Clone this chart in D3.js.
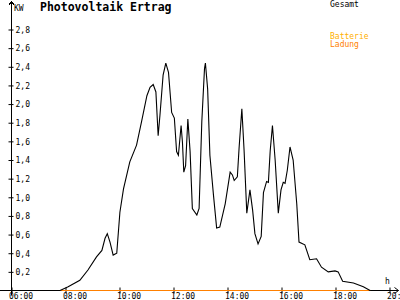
<!DOCTYPE html>
<html>
<head>
<meta charset="utf-8">
<script src="https://cdn.jsdelivr.net/npm/d3@7"></script>
<style>
  body { margin: 0; background: #fff; }
  svg { display: block; }
  text { font-family: "DejaVu Sans Mono", monospace; }
</style>
</head>
<body>
<div id="chart"></div>
<script>
// PV curve
var times = ["07:49","08:07","08:33","08:51","09:10","09:22","09:29","09:34","09:40","09:47",
  "09:55","10:02","10:10","10:24","10:39","10:50","11:02","11:09","11:16","11:22",
  "11:27","11:31","11:38","11:44","11:50","11:57","12:03","12:08","12:12","12:18",
  "12:21","12:24","12:28","12:33","12:38","12:43","12:53","12:58","13:04","13:10",
  "13:12","13:17","13:22","13:30","13:37","13:44","13:56","14:07","14:12","14:16",
  "14:23","14:27","14:33","14:38","14:44","14:51","14:57","15:02","15:09","15:16",
  "15:21","15:28","15:32","15:36","15:41","15:47","15:54","16:00","16:05","16:09",
  "16:14","16:20","16:27","16:35","16:40","16:53","17:04","17:19","17:30","17:45",
  "18:00","18:07","18:17","18:41","19:03","19:18"];
var kw = [0.00,0.04,0.11,0.22,0.36,0.43,0.56,0.61,0.52,0.38,
  0.40,0.84,1.09,1.38,1.56,1.81,2.09,2.18,2.21,2.13,
  1.66,1.88,2.31,2.44,2.34,1.91,1.85,1.49,1.45,1.77,
  1.59,1.27,1.34,1.84,1.49,0.88,0.81,0.88,1.81,2.38,
  2.44,2.16,1.45,1.02,0.67,0.68,0.93,1.27,1.24,1.18,
  1.22,1.54,1.95,1.50,0.83,1.08,0.86,0.61,0.50,0.58,
  1.05,1.17,1.16,1.50,1.77,1.40,0.83,1.08,1.16,1.15,
  1.29,1.54,1.40,0.93,0.52,0.49,0.33,0.34,0.25,0.20,
  0.21,0.20,0.10,0.08,0.04,0.00];

// battery charge series (flat at zero)
var batTimes = ["07:49","19:18"];
var batKw = [0, 0];

var xTicks = [6, 8, 10, 12, 14, 16, 18, 20];
var yTicks = [0.2,0.4,0.6,0.8,1.0,1.2,1.4,1.6,1.8,2.0,2.2,2.4,2.6,2.8];

var width = 400, height = 300;

function toHours(s) {
    var p = s.split(":");
    return +p[0] + p[1] / 60;
}

var svg = d3.select("#chart")
  .append("svg")
    .attr("width", width)
    .attr("height", height);

var x = d3.scaleLinear()
    .domain([6, 20])
    .range([11, 389]);

var y = d3.scaleLinear()
    .domain([0, 2.8])
    .range([290.5, 29.5]);

// y axis
var yAxis = d3.axisRight(y)
    .tickValues(yTicks)
    .tickSize(3)
    .tickFormat(function(d) { return d3.format(".1f")(d).replace(".", ","); });

var gy = svg.append("g")
    .attr("transform", "translate(11.5,0)")
    .call(yAxis);
gy.select(".domain").remove();
gy.selectAll(".tick line").attr("x1", -3).attr("x2", 2).attr("stroke", "#000");
gy.selectAll(".tick text")
    .attr("x", 4)
    .attr("dy", "0.35em")
    .attr("fill", "#000")
    .style("font-size", "8px");

// x axis
var xAxis = d3.axisBottom(x)
    .tickValues(xTicks)
    .tickSize(4)
    .tickFormat(function(d) { return (d < 10 ? "0" : "") + d + ":00"; });

var gx = svg.append("g")
    .attr("transform", "translate(0.5,290.5)")
    .call(xAxis);
gx.select(".domain").remove();
gx.selectAll(".tick line").attr("y1", -3).attr("y2", 3).attr("stroke", "#000");
gx.selectAll(".tick text")
    .attr("y", 8)
    .attr("dy", 0)
    .attr("x", -3)
    .attr("text-anchor", "start")
    .attr("fill", "#000")
    .style("font-size", "8px");

// axis lines with arrows
svg.append("path")
    .attr("d", "M11.5,295V1.5M8.5,5.5L11.5,1.5L14.5,5.5")
    .attr("fill", "none")
    .attr("stroke", "#000")
    .attr("shape-rendering", "crispEdges");
svg.append("path")
    .attr("d", "M0,290.5H398.5M394.5,287.5L398.5,290.5L394.5,293.5")
    .attr("fill", "none")
    .attr("stroke", "#000");

var line = d3.line()
    .x(function(d) { return x(d[0]); })
    .y(function(d) { return y(d[1]); });

svg.append("path")
    .datum(batTimes.map(function(t, i) { return [toHours(t), batKw[i]]; }))
    .attr("d", line)
    .attr("fill", "none")
    .attr("stroke", "#ff8000")
    .attr("stroke-width", 1.2);

svg.append("path")
    .datum(times.map(function(t, i) { return [toHours(t), kw[i]]; }))
    .attr("d", line)
    .attr("fill", "none")
    .attr("stroke", "#000")
    .attr("stroke-width", 1.1);

// labels
svg.append("text")
    .attr("x", 14).attr("y", 11)
    .style("font-size", "8px")
    .text("KW");
svg.append("text")
    .attr("x", 385).attr("y", 284)
    .style("font-size", "8px")
    .text("h");
svg.append("text")
    .attr("x", 40).attr("y", 11)
    .style("font-size", "11.5px")
    .style("font-weight", "bold")
    .text("Photovoltaik Ertrag");
svg.append("text")
    .attr("x", 330).attr("y", 7)
    .style("font-size", "8px")
    .text("Gesamt");
svg.append("text")
    .attr("x", 330).attr("y", 38.5)
    .attr("fill", "#ffb000")
    .style("font-size", "8px")
    .text("Batterie");
svg.append("text")
    .attr("x", 330).attr("y", 47)
    .attr("fill", "#ff8000")
    .style("font-size", "8px")
    .text("Ladung");
</script>
</body>
</html>
